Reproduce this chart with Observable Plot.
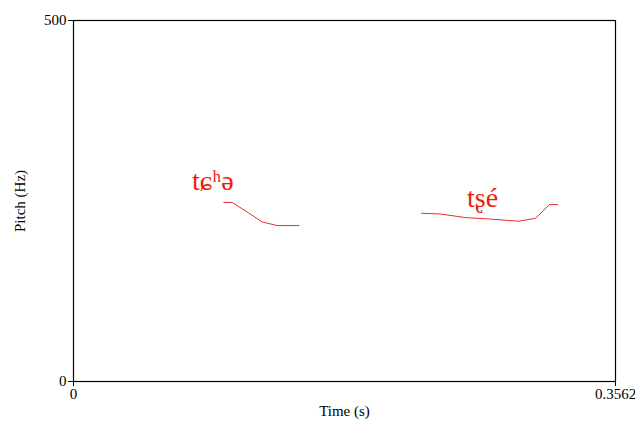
<!DOCTYPE html>
<html>
<head>
<meta charset="utf-8">
<script src="https://cdn.jsdelivr.net/npm/d3@7"></script>
<script src="https://cdn.jsdelivr.net/npm/@observablehq/plot@0.6"></script>
<style>
  html, body { margin: 0; padding: 0; background: #fff; }
  #chart svg { display: block; }
</style>
</head>
<body>
<div id="chart"></div>
<script>
// Syllable 1 pitch track (tɕʰə)
const seg1Time  = [0.0988, 0.1043, 0.1140, 0.1240, 0.1339, 0.1481];
const seg1Pitch = [248, 248, 235, 221, 216, 216];
// Syllable 2 pitch track (tʂé)
const seg2Time  = [0.2287, 0.2412, 0.2576, 0.2741, 0.2925, 0.3036, 0.3128, 0.3181];
const seg2Pitch = [233, 232, 227, 225, 222, 226, 245, 245];
// Syllable labels
const labelText  = ["tɕʰə", "tʂé"];
const labelTime  = [0.0916, 0.2688];
const labelPitch = [265, 241];
// Axis ticks
const xTicks = [0, 0.3562];
const yTicks = [0, 500];
const xDomain = [0, 0.3562];
const yDomain = [0, 500];

const seg1 = seg1Time.map((t, i) => ({t, f: seg1Pitch[i], s: 1}));
const seg2 = seg2Time.map((t, i) => ({t, f: seg2Pitch[i], s: 2}));
const labels = labelText.map((txt, i) => ({txt, t: labelTime[i], f: labelPitch[i]}));

const font = "Liberation Serif";

const chart = Plot.plot({
  width: 635,
  height: 422,
  marginLeft: 73,
  marginRight: 20,
  marginTop: 20,
  marginBottom: 41,
  style: {fontFamily: font, fontSize: "15px", color: "#000", background: "#fff"},
  x: {domain: xDomain},
  y: {domain: yDomain},
  marks: [
    Plot.frame({stroke: "#000", strokeWidth: 1.2}),
    Plot.axisX({ticks: xTicks, tickFormat: d => d === 0 ? "0" : "0.3562", tickSize: 5, tickPadding: 2, label: null, fontSize: 15}),
    Plot.axisY({ticks: yTicks, tickFormat: d => String(d), tickSize: 5, tickPadding: 2, label: null, fontSize: 15}),
    Plot.line(seg1.concat(seg2), {x: "t", y: "f", z: "s", stroke: "#ee2a2a", strokeWidth: 1}),
    Plot.text(labels, {x: "t", y: "f", text: "txt", fill: "#ee1c0c", fontSize: 28, fontFamily: "Liberation Serif", textAnchor: "middle", lineAnchor: "bottom"}),
    Plot.text(["Time (s)"], {frameAnchor: "bottom", dy: 34, fontSize: 15, fill: "#000"}),
    Plot.text(["Pitch (Hz)"], {frameAnchor: "left", dx: -53, rotate: -90, textAnchor: "middle", fontSize: 15, fill: "#000"})
  ]
});
document.getElementById("chart").appendChild(chart);
</script>
</body>
</html>
